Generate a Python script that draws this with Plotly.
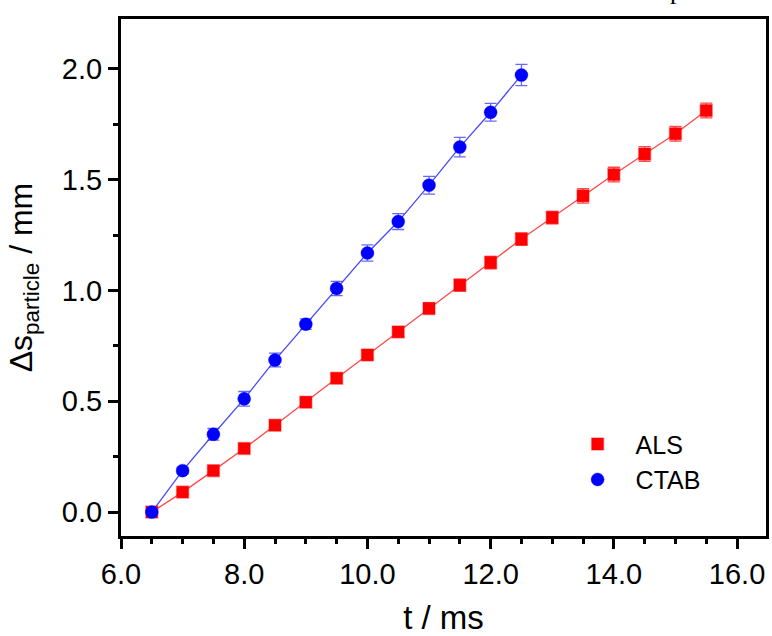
import plotly.graph_objects as go

# ---- data ----
t_als = [6.5, 7.0, 7.5, 8.0, 8.5, 9.0, 9.5, 10.0, 10.5, 11.0, 11.5, 12.0,
         12.5, 13.0, 13.5, 14.0, 14.5, 15.0, 15.5]
s_als = [0.0, 0.090, 0.187, 0.287, 0.392, 0.496, 0.604, 0.709, 0.813, 0.919,
         1.024, 1.126, 1.232, 1.329, 1.427, 1.523, 1.616, 1.707, 1.812]
err_als = [0.0, 0.010, 0.010, 0.012, 0.015, 0.015, 0.018, 0.020, 0.020, 0.025,
           0.027, 0.028, 0.028, 0.028, 0.033, 0.033, 0.033, 0.033, 0.033]

t_ctab = [6.5, 7.0, 7.5, 8.0, 8.5, 9.0, 9.5, 10.0, 10.5, 11.0, 11.5, 12.0, 12.5]
s_ctab = [0.0, 0.187, 0.351, 0.511, 0.686, 0.848, 1.009, 1.169, 1.311, 1.475,
          1.647, 1.804, 1.972]
err_ctab = [0.0, 0.015, 0.026, 0.033, 0.031, 0.024, 0.032, 0.037, 0.036, 0.040,
            0.044, 0.040, 0.048]

names = ["ALS", "CTAB"]
x_range = [6.0, 16.47]
y_range = [-0.108, 2.225]
x_ticks = [6.0, 8.0, 10.0, 12.0, 14.0, 16.0]
y_ticks = [0.0, 0.5, 1.0, 1.5, 2.0]

FONT = "Arial, 'Liberation Sans', sans-serif"

fig = go.Figure()
# thin connecting lines (no legend entry)
fig.add_trace(go.Scatter(
    x=t_als, y=s_als, mode="lines", showlegend=False, hoverinfo="skip",
    line=dict(color="rgba(255,40,40,0.85)", width=1.3),
))
fig.add_trace(go.Scatter(
    x=t_ctab, y=s_ctab, mode="lines", showlegend=False, hoverinfo="skip",
    line=dict(color="rgba(40,40,255,0.85)", width=1.3),
))
# markers with error bars
fig.add_trace(go.Scatter(
    x=t_als, y=s_als, name=names[0], mode="markers",
    marker=dict(symbol="square", size=12, color="#ff0000",
                line=dict(color="rgba(255,0,0,0.35)", width=1.5)),
    error_y=dict(type="data", array=err_als, visible=True,
                 color="rgba(255,0,0,0.7)", thickness=1.3, width=6),
))
fig.add_trace(go.Scatter(
    x=t_ctab, y=s_ctab, name=names[1], mode="markers",
    marker=dict(symbol="circle", size=13, color="#0000ff",
                line=dict(color="rgba(0,0,255,0.35)", width=1)),
    error_y=dict(type="data", array=err_ctab, visible=True,
                 color="rgba(40,40,255,0.7)", thickness=1.3, width=6),
))

axis_common = dict(
    showline=True, linecolor="black", linewidth=3, mirror=True,
    ticks="outside", tickcolor="black", tickwidth=3, ticklen=10,
    showgrid=False, zeroline=False,
    tickfont=dict(family=FONT, size=29, color="black"),
    tickformat=".1f",
)

fig.update_layout(
    width=772, height=636,
    margin=dict(l=121, r=3, t=19, b=98),
    paper_bgcolor="white", plot_bgcolor="white",
    font=dict(family=FONT, color="black"),
    xaxis=dict(**axis_common, range=x_range, tickvals=x_ticks,
               minor=dict(dtick=0.5, tick0=6.0, ticks="outside", ticklen=5,
                          tickwidth=3, tickcolor="black"),
               title=dict(text="t / ms", font=dict(family=FONT, size=33),
                          standoff=20)),
    yaxis=dict(**axis_common, range=y_range, tickvals=y_ticks,
               minor=dict(dtick=0.25, tick0=0.0, ticks="outside", ticklen=5,
                          tickwidth=3, tickcolor="black"),
               title=dict(text="\u0394s<sub>particle</sub> / mm",
                          font=dict(family=FONT, size=32), standoff=20)),
    legend=dict(x=0.68, y=0.222, xanchor="left", yanchor="top",
                bgcolor="rgba(0,0,0,0)", borderwidth=0,
                font=dict(family=FONT, size=25, color="black"),
                itemwidth=66, tracegroupgap=0),
    showlegend=True,
)

# fragment of a caption line cut off at the top of the picture
fig.add_annotation(text="p", xref="paper", yref="paper",
                   x=(680 - 121) / 649, y=1 + (19 - 6) / 519,
                   xanchor="center", yanchor="bottom", showarrow=False,
                   borderpad=0,
                   font=dict(family="'Liberation Serif', 'Times New Roman', serif",
                             size=26, color="black"))

fig.write_html("out.html")
